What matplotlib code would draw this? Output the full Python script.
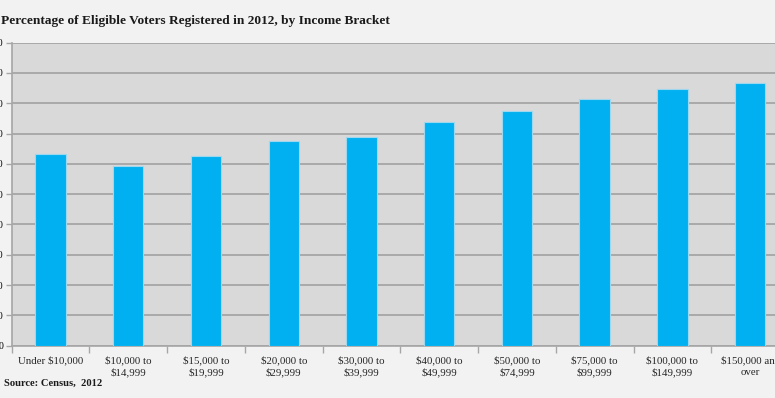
import numpy as np
import matplotlib.pyplot as plt

categories = ["Under $10,000", "$10,000 to\n$14,999", "$15,000 to\n$19,999",
              "$20,000 to\n$29,999", "$30,000 to\n$39,999", "$40,000 to\n$49,999",
              "$50,000 to\n$74,999", "$75,000 to\n$99,999", "$100,000 to\n$149,999",
              "$150,000 and\nover"]
registered = [63.2, 59.3, 62.6, 67.6, 69.0, 73.7, 77.4, 81.5, 84.6, 86.8]
yticks = [0, 10, 20, 30, 40, 50, 60, 70, 80, 90, 100]

plt.rcParams['font.family'] = ['Liberation Serif', 'DejaVu Serif']

fig = plt.figure(figsize=(7.75, 3.98), dpi=100, facecolor='#f2f2f2')
ax = fig.add_axes([11.6 / 775, 1 - 345.7 / 398, 777.4 / 775, 303 / 398])
ax.set_facecolor('#d9d9d9')

x = np.arange(len(categories))
ax.bar(x, registered, width=0.39, color='#00b0f0', edgecolor='#9fd8ee',
       linewidth=0.8, zorder=3)

ax.set_xlim(-0.5, len(categories) - 0.5)
ax.set_ylim(0, 100)
ax.set_yticks(yticks)
ax.set_yticklabels([str(v) for v in yticks], fontsize=7)
ax.grid(axis='y', color='#a6a6a6', linewidth=1.3, zorder=1)
ax.set_axisbelow(True)

ax.set_xticks(x)
ax.set_xticklabels(categories, fontsize=7.8, color='#262626', linespacing=1.35)
ax.set_xticks(np.arange(len(categories) + 1) - 0.5, minor=True)
ax.tick_params(axis='x', which='major', length=0, pad=7)
ax.tick_params(axis='x', which='minor', length=5, color='#a6a6a6', width=1)
ax.tick_params(axis='y', length=4, color='#a6a6a6', width=1, pad=2)

for side in ['top', 'right']:
    ax.spines[side].set_visible(False)
for side in ['left', 'bottom']:
    ax.spines[side].set_color('#a6a6a6')
    ax.spines[side].set_linewidth(1.2)

fig.text(1 / 775, 1 - 21 / 398, "Percentage of Eligible Voters Registered in 2012, by Income Bracket",
         fontsize=9.65, fontweight='bold', color='#1a1a1a', va='center', ha='left')
fig.text(4 / 775, 1 - 383 / 398, "Source: Census,  2012",
         fontsize=7.6, fontweight='bold', color='#1a1a1a', va='center', ha='left')

fig.savefig('out.png', dpi=100, facecolor=fig.get_facecolor())
